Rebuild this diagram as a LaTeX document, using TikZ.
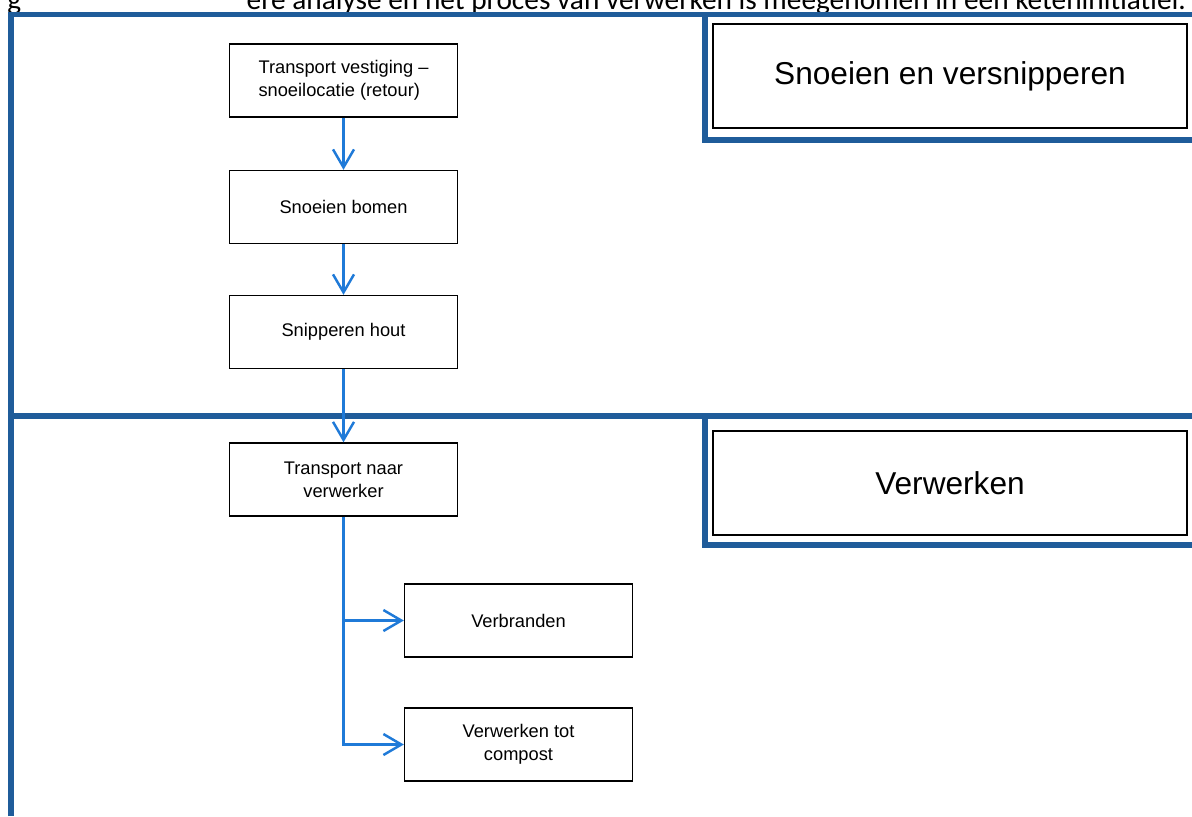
\documentclass[tikz,border=0pt]{standalone}
\usepackage{fontspec}
\setmainfont{Liberation Sans}
\newfontfamily\captionfont{Carlito}
\usetikzlibrary{arrows.meta}
\definecolor{framebl}{HTML}{1F5C9A}
\definecolor{flowbl}{HTML}{1F7AD8}
\tikzset{
  stepbox/.style={draw=black, line width=0.8pt, minimum width=4.56cm,
    minimum height=1.46cm, inner sep=0pt, align=center,
    font=\fontsize{10.4}{13}\selectfont},
  phasebox/.style={draw=black, line width=0.8pt, minimum width=9.48cm,
    minimum height=2.08cm, inner sep=0pt, font=\fontsize{18}{21}\selectfont},
  frameline/.style={draw=framebl, line width=3pt},
  flow/.style={draw=flowbl, line width=1.4pt,
    -{Straight Barb[length=0.36cm, width=0.42cm, line width=1.4pt]}},
}

\begin{document}
\begin{tikzpicture}[x=0.02cm, y=-0.02cm]
  \useasboundingbox (0,0) rectangle (1192,816);
  \clip (0,0) rectangle (1192,816);
  %
  % caption, cut off at the top of the page
  \node[anchor=base west, inner sep=0pt, font=\captionfont\fontsize{16.7}{20}\selectfont]
    (capl) at (7,9.5) {g};
  \node[anchor=base east, inner sep=0pt, font=\captionfont\fontsize{16.7}{20}\selectfont]
    (capr) at (1186,9.5) {ere analyse en het proces van verwerken is meegenomen in een keteninitiatief.};
  %
  % blue frame and divider
  \draw[frameline] (11,816) -- (11,14.5) -- (1192,14.5);
  \draw[frameline] (11,416) -- (1192,416);
  \draw[frameline] (705,14.5) -- (705,140) -- (1192,140);  % upper phase
  \draw[frameline] (705,416) -- (705,545) -- (1192,545);   % lower phase
  %
  % phase labels
  \node[phasebox] (snoei) at (950,76)  {Snoeien en versnipperen};
  \node[phasebox] (verw)  at (950,483) {Verwerken};
  %
  % process steps
  \node[stepbox, align=left] (tvs) at (343.5,80.5) {Transport vestiging --\\snoeilocatie (retour)};
  \node[stepbox] (sb)   at (343.5,207)   {Snoeien bomen};
  \node[stepbox] (sh)   at (343.5,332)   {Snipperen hout};
  \node[stepbox] (tnv)  at (343.5,479.5) {Transport naar\\verwerker};
  \node[stepbox] (verb) at (518.5,620.5) {Verbranden};
  \node[stepbox] (comp) at (518.5,744.5) {Verwerken tot\\compost};
  %
  % flow
  \draw[flow] (tvs) -- (sb);
  \draw[flow] (sb)  -- (sh);
  \draw[flow] (sh)  -- (tnv);
  \draw[flow] (tnv.south |- verb.west) -- (verb.west);  % branch
  \draw[flow] (tnv.south) |- (comp.west);               % trunk
\end{tikzpicture}
\end{document}
